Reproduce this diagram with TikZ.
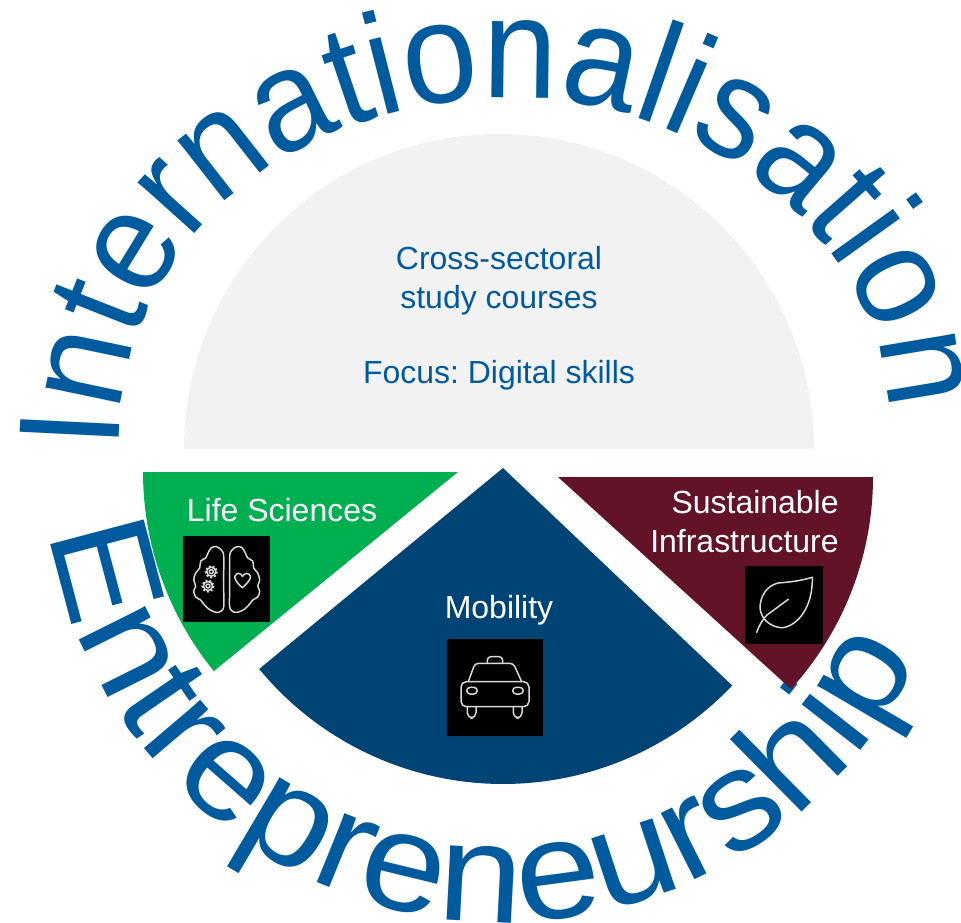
\documentclass[tikz,border=0pt]{standalone}
\usepackage{fontspec}
\setmainfont{Liberation Sans}
\usetikzlibrary{decorations.text}
\newfontfamily\topfont[FakeStretch=0.933]{Liberation Sans}
\newfontfamily\bottomfont[FakeStretch=1.085]{Liberation Sans}
\definecolor{archblue}{HTML}{005A9E}
\definecolor{lifegreen}{HTML}{00B050}
\definecolor{mobilityblue}{HTML}{004375}
\definecolor{infrared}{HTML}{621327}
\definecolor{crossgrey}{HTML}{F2F2F2}
\tikzset{
	label/.style = {font = \fontsize{18.2}{22.2}\selectfont, inner sep = 0},
	iconbox/.style = {fill = black},
	iconline/.style = {draw = white!85!black, line width = 0.85 pt, line join = round, line cap = round},
	archtext/.style = {decorate, decoration = {text along path, text color = archblue, text = {#1}}}
}
\frenchspacing
\begin{document}
\begin{tikzpicture}[x = 0.02 cm, y = -0.02 cm]
	 \useasboundingbox (0, 0) rectangle (961, 923);
	 
	 \path[archtext = {|\topfont\fontsize{82}{82}\selectfont|Internationalisation}] (119, 450) .. controls (119, 241) and (289, 98) .. (515, 98) .. controls (709, 98) and (888, 248) .. (888, 412) -- (888, 480);
	 \path[archtext = {|\bottomfont\fontsize{80}{80}\selectfont|Entrepreneurship}] (503, 464) ++(171.5:458) arc (171.5:15:458);
	 
	 \fill[crossgrey] (184, 449) arc (180:360:315) -- cycle;
	 \fill[lifegreen] (458, 472) -- (143, 472) arc (180:140.8:315) -- cycle;
	 \fill[mobilityblue] (503, 468) -- +(140.5:316) arc (140.5:43.5:316) -- cycle;
	 \fill[infrared] (558, 477) -- (873, 477) arc (0:42.3:315) -- cycle;
	 
	 \node[label, text = archblue, align = center] (cross) at (499, 281) {Cross-sectoral\\study courses};
	 \node[label, text = archblue] (focus) at (499, 375) {Focus: Digital skills};
	 \node[label, text = white] (life) at (282, 510) {Life Sciences};
	 \node[label, text = white] (mobility) at (499, 610) {Mobility};
	 \node[label, text = white, align = right, anchor = east] (infra) at (839, 522) {Sustainable\\Infrastructure};
	 
	 \fill[iconbox] (183, 536) rectangle (270, 622);
	 \foreach \side in {1, -1} {
	 \draw[iconline, xshift = 226.7 * 0.02 cm, xscale = \side] plot[smooth cycle, tension = 0.55] coordinates {(-3, 575) (-3, 556) (-5.3, 550) (-10.3, 546.7) (-15.3, 547.7) (-18.7, 553) (-21, 558) (-26, 561) (-27, 568) (-31, 573) (-33, 580) (-31, 586) (-33, 591) (-31, 597) (-26, 600) (-23, 604) (-18, 609) (-12, 612) (-7, 612) (-3, 607) (-3, 590)};
	 }
	 \foreach \x/\y in {211.3/571.7, 208/586} {
	 \draw[iconline] (\x, \y) circle (2);
	 \draw[iconline] (\x, \y) circle (4.5);
	 \draw[iconline, line width = 1.2 pt, line cap = butt, dash pattern = on 1.1 pt off 1.1 pt] (\x, \y) circle (5.6);
	 }
	 \draw[iconline] (242.3, 587.7) .. controls (236, 582) and (234, 578) .. (235, 576) .. controls (236.5, 572.5) and (241, 572.5) .. (242.5, 576.5) .. controls (244.5, 572.5) and (249, 572.5) .. (250.3, 576) .. controls (251.3, 578) and (249, 582) .. (242.3, 587.7) -- cycle;
	 
	 \fill[iconbox] (447, 639) rectangle (543, 736);
	 \draw[iconline, rounded corners = 3] (461, 681.7) rectangle (529, 706.7);
	 \draw[iconline, rounded corners = 2] (468.3, 681.7) -- (475, 663.3) -- (513.3, 663.3) -- (521.7, 681.7);
	 \draw[iconline, rounded corners = 2] (487.3, 663.3) -- (487.3, 656.7) -- (502.7, 656.7) -- (502.7, 663.3);
	 \draw[iconline, rounded corners = 2] (466.7, 687.3) rectangle (477.3, 694);
	 \draw[iconline, rounded corners = 2] (512.7, 687.3) rectangle (523.3, 694);
	 \draw[iconline, rounded corners = 3] (467.3, 706.7) -- (467.3, 718) -- (476, 718) -- (476, 706.7);
	 \draw[iconline, rounded corners = 3] (513.3, 706.7) -- (513.3, 718) -- (522, 718) -- (522, 706.7);
	 
	 \fill[iconbox] (745, 566) rectangle (823, 644);
	 \draw[iconline] (812.3, 577.3) .. controls (800, 581) and (790, 582) .. (778, 583) .. controls (766, 586) and (760, 597) .. (760, 608) .. controls (761, 620) and (772, 628) .. (783.3, 627.7) .. controls (798, 625) and (813, 607) .. (812.3, 577.3) -- cycle;
	 \draw[iconline] (788.3, 599.3) -- (767, 615) .. controls (762, 620) and (759, 626) .. (756.7, 632.3);
\end{tikzpicture}
\end{document}
